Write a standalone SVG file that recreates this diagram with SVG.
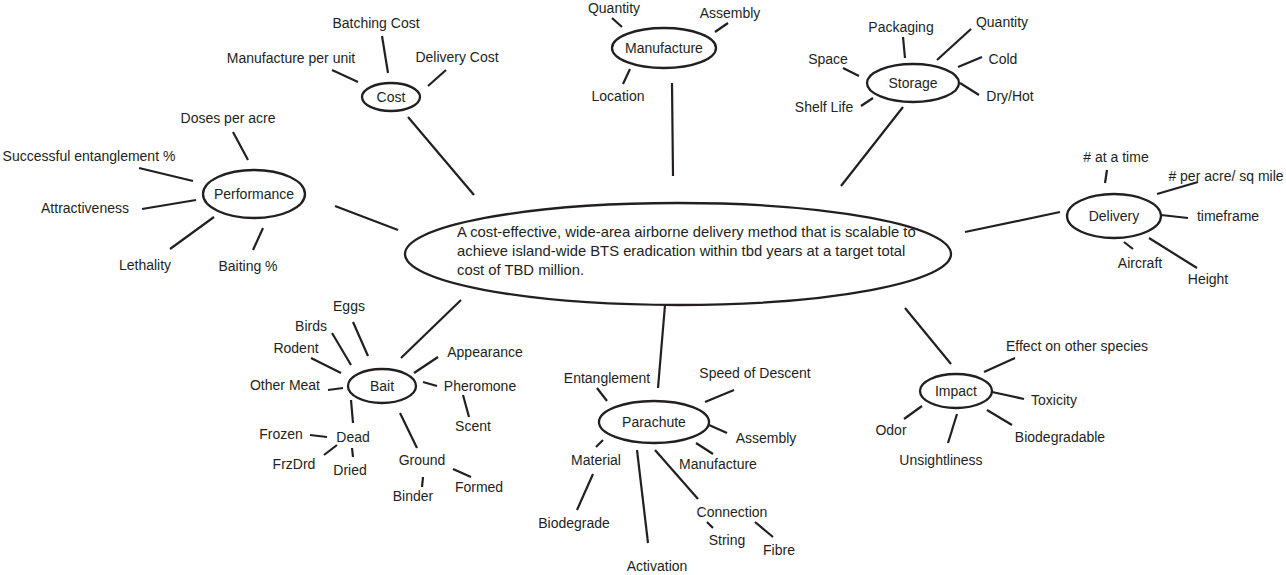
<svg xmlns="http://www.w3.org/2000/svg" width="1286" height="575" viewBox="0 0 1286 575">
<style>
text{font-family:"Liberation Sans",Arial,sans-serif;font-size:14px;fill:#231f20;text-anchor:middle}
.l{text-anchor:start;font-size:14.8px}
ellipse{fill:none;stroke:#231f20;stroke-width:2.3}
#connectors line{stroke:#231f20;stroke-width:2.2;stroke-linecap:butt}
</style>
<rect width="1286" height="575" fill="#ffffff"/>
<g id="connectors">
<line x1="335" y1="206" x2="398" y2="230"/>
<line x1="408" y1="117" x2="474" y2="195"/>
<line x1="672" y1="83" x2="673" y2="176"/>
<line x1="841" y1="186" x2="903" y2="107"/>
<line x1="965" y1="232" x2="1060" y2="212"/>
<line x1="401" y1="358" x2="461" y2="300"/>
<line x1="658" y1="388" x2="665" y2="305"/>
<line x1="951" y1="364" x2="905" y2="308"/>
<line x1="233" y1="132" x2="248" y2="160"/>
<line x1="139" y1="168" x2="193" y2="181"/>
<line x1="142" y1="209" x2="196" y2="200"/>
<line x1="170" y1="249" x2="214" y2="217"/>
<line x1="253" y1="250" x2="263" y2="228"/>
<line x1="382" y1="36" x2="388" y2="73"/>
<line x1="332" y1="70" x2="358" y2="82"/>
<line x1="446" y1="70" x2="428" y2="86"/>
<line x1="612" y1="18" x2="622" y2="27"/>
<line x1="728" y1="23" x2="715" y2="32"/>
<line x1="630" y1="69" x2="623" y2="84"/>
<line x1="903" y1="37" x2="905" y2="58"/>
<line x1="971" y1="29" x2="937" y2="60"/>
<line x1="982" y1="57" x2="958" y2="67"/>
<line x1="979" y1="95" x2="960" y2="83"/>
<line x1="843" y1="68" x2="859" y2="76"/>
<line x1="861" y1="106" x2="873" y2="98"/>
<line x1="1107" y1="170" x2="1105" y2="183"/>
<line x1="1157" y1="194" x2="1198" y2="182"/>
<line x1="1161" y1="215" x2="1188" y2="218"/>
<line x1="1124" y1="242" x2="1133" y2="249"/>
<line x1="1149" y1="238" x2="1197" y2="268"/>
<line x1="353" y1="322" x2="368" y2="356"/>
<line x1="332" y1="333" x2="351" y2="365"/>
<line x1="311" y1="358" x2="341" y2="373"/>
<line x1="328" y1="390" x2="343" y2="388"/>
<line x1="351" y1="400" x2="353" y2="423"/>
<line x1="310" y1="435" x2="327" y2="437"/>
<line x1="324" y1="455" x2="337" y2="445"/>
<line x1="352" y1="448" x2="353" y2="457"/>
<line x1="400" y1="413" x2="417" y2="448"/>
<line x1="423" y1="477" x2="422" y2="487"/>
<line x1="453" y1="469" x2="471" y2="477"/>
<line x1="414" y1="373" x2="438" y2="357"/>
<line x1="423" y1="382" x2="437" y2="386"/>
<line x1="463" y1="395" x2="469" y2="417"/>
<line x1="597" y1="388" x2="607" y2="401"/>
<line x1="705" y1="402" x2="734" y2="390"/>
<line x1="709" y1="425" x2="727" y2="433"/>
<line x1="696" y1="443" x2="713" y2="454"/>
<line x1="655" y1="450" x2="698" y2="499"/>
<line x1="637" y1="450" x2="648" y2="543"/>
<line x1="596" y1="447" x2="603" y2="440"/>
<line x1="577" y1="510" x2="593" y2="474"/>
<line x1="707" y1="522" x2="713" y2="528"/>
<line x1="755" y1="522" x2="773" y2="537"/>
<line x1="984" y1="372" x2="1015" y2="358"/>
<line x1="992" y1="392" x2="1024" y2="399"/>
<line x1="987" y1="410" x2="1012" y2="425"/>
<line x1="957" y1="414" x2="948" y2="443"/>
<line x1="904" y1="419" x2="922" y2="406"/>
</g>
<g id="goal">
<ellipse cx="678" cy="254" rx="273" ry="51"/>
<text class="l" x="457" y="237">A cost-effective, wide-area airborne delivery method that is scalable to</text>
<text class="l" x="457" y="256">achieve island-wide BTS eradication within tbd years at a target total</text>
<text class="l" x="457" y="275">cost of TBD million.</text>
</g>
<g id="performance"><ellipse cx="254" cy="194" rx="51" ry="24"/><text x="254" y="199">Performance</text></g>
<g id="perf-doses"><text x="228" y="123">Doses per acre</text></g>
<g id="perf-entangle"><text x="89" y="161">Successful entanglement %</text></g>
<g id="perf-attract"><text x="85" y="213">Attractiveness</text></g>
<g id="perf-lethality"><text x="145" y="270">Lethality</text></g>
<g id="perf-baiting"><text x="248" y="271">Baiting %</text></g>

<g id="cost"><ellipse cx="391" cy="97" rx="29" ry="14"/><text x="391" y="102">Cost</text></g>
<g id="cost-batching"><text x="376" y="28">Batching Cost</text></g>
<g id="cost-manuf"><text x="291" y="63">Manufacture per unit</text></g>
<g id="cost-delivery"><text x="457" y="62">Delivery Cost</text></g>

<g id="manufacture"><ellipse cx="664" cy="48" rx="52" ry="20"/><text x="664" y="53">Manufacture</text></g>
<g id="manuf-quantity"><text x="614" y="13">Quantity</text></g>
<g id="manuf-assembly"><text x="730" y="18">Assembly</text></g>
<g id="manuf-location"><text x="618" y="101">Location</text></g>

<g id="storage"><ellipse cx="913" cy="83" rx="46" ry="19"/><text x="913" y="88">Storage</text></g>
<g id="stor-packaging"><text x="901" y="32">Packaging</text></g>
<g id="stor-quantity"><text x="1002" y="27">Quantity</text></g>
<g id="stor-cold"><text x="1003" y="64">Cold</text></g>
<g id="stor-dryhot"><text x="1010" y="101">Dry/Hot</text></g>
<g id="stor-space"><text x="828" y="64">Space</text></g>
<g id="stor-shelf"><text x="824" y="112">Shelf Life</text></g>

<g id="delivery"><ellipse cx="1114" cy="216" rx="47" ry="22"/><text x="1114" y="221">Delivery</text></g>
<g id="del-atatime"><text x="1116" y="162"># at a time</text></g>
<g id="del-peracre"><text x="1226" y="181"># per acre/ sq mile</text></g>
<g id="del-timeframe"><text x="1228" y="221">timeframe</text></g>
<g id="del-aircraft"><text x="1140" y="268">Aircraft</text></g>
<g id="del-height"><text x="1208" y="284">Height</text></g>

<g id="bait"><ellipse cx="382" cy="386" rx="34" ry="17"/><text x="382" y="391">Bait</text></g>
<g id="bait-eggs"><text x="349" y="311">Eggs</text></g>
<g id="bait-birds"><text x="311" y="331">Birds</text></g>
<g id="bait-rodent"><text x="296" y="353">Rodent</text></g>
<g id="bait-othermeat"><text x="285" y="390">Other Meat</text></g>
<g id="bait-appearance"><text x="485" y="357">Appearance</text></g>
<g id="bait-pheromone"><text x="480" y="391">Pheromone</text></g>
<g id="bait-scent"><text x="473" y="431">Scent</text></g>
<g id="bait-dead"><text x="353" y="442">Dead</text></g>
<g id="bait-frozen"><text x="281" y="439">Frozen</text></g>
<g id="bait-frzdrd"><text x="294" y="469">FrzDrd</text></g>
<g id="bait-dried"><text x="350" y="475">Dried</text></g>
<g id="bait-ground"><text x="422" y="465">Ground</text></g>
<g id="bait-binder"><text x="413" y="501">Binder</text></g>
<g id="bait-formed"><text x="479" y="492">Formed</text></g>

<g id="parachute"><ellipse cx="654" cy="422" rx="55" ry="21"/><text x="654" y="427">Parachute</text></g>
<g id="para-entanglement"><text x="607" y="383">Entanglement</text></g>
<g id="para-speed"><text x="755" y="378">Speed of Descent</text></g>
<g id="para-assembly"><text x="766" y="443">Assembly</text></g>
<g id="para-manufacture"><text x="718" y="469">Manufacture</text></g>
<g id="para-material"><text x="596" y="465">Material</text></g>
<g id="para-biodegrade"><text x="574" y="528">Biodegrade</text></g>
<g id="para-connection"><text x="732" y="517">Connection</text></g>
<g id="para-string"><text x="727" y="545">String</text></g>
<g id="para-fibre"><text x="779" y="555">Fibre</text></g>
<g id="para-activation"><text x="657" y="571">Activation</text></g>

<g id="impact"><ellipse cx="956" cy="391" rx="36" ry="17"/><text x="956" y="396">Impact</text></g>
<g id="imp-effect"><text x="1077" y="351">Effect on other species</text></g>
<g id="imp-toxicity"><text x="1054" y="405">Toxicity</text></g>
<g id="imp-biodegradable"><text x="1060" y="442">Biodegradable</text></g>
<g id="imp-unsightliness"><text x="941" y="465">Unsightliness</text></g>
<g id="imp-odor"><text x="891" y="435">Odor</text></g>
</svg>
